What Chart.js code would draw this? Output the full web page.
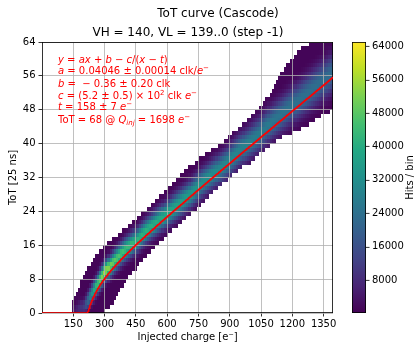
<!DOCTYPE html>
<html>
<head>
<meta charset="utf-8">
<script src="https://cdn.jsdelivr.net/npm/chart.js@4.4.1/dist/chart.umd.min.js"></script>
<style>
  html, body { margin: 0; padding: 0; background: #fff; }
</style>
</head>
<body>
<canvas id="totChart" width="417" height="343"></canvas>
<script>
// hit band per injected charge [e-]: edges, ridge position, ridge height, ridge width (ToT units)
const chargeSamples = [150, 200, 250, 300, 350, 400, 450, 500, 550, 600, 650, 700, 750, 800, 850, 900, 950, 1000, 1050, 1100, 1150, 1200, 1250, 1300, 1350, 1400];
const bandLow   = [0, 0, 0, 0, 3, 7.5, 10.5, 13.5, 16, 18.3, 20.5, 23, 25, 27.3, 29.8, 32, 34, 35.6, 37.7, 39.7, 41.4, 42.5, 43.7, 45.3, 46.8, 48];
const bandHigh  = [2.5, 9, 13, 16, 18, 20, 22.5, 24.5, 27, 29.5, 32, 34.3, 36.3, 38, 39.8, 41.8, 44, 46.3, 48.8, 52.5, 57, 60, 63, 64, 64, 64];
const ridgeTot  = [0.5, 1.5, 5.5, 9.5, 12.5, 15, 17, 19.5, 21.5, 23.5, 25.5, 27.5, 30, 32, 34, 36, 38.5, 40.5, 42.5, 45, 47, 49, 51, 53, 55, 57];
const ridgeHits = [3000, 12000, 40000, 56000, 48000, 44000, 42000, 41000, 40000, 39000, 37000, 35000, 33500, 32000, 31000, 30000, 29000, 28000, 27000, 26000, 25000, 24500, 24000, 23500, 23000, 23000];
const ridgeWidth = [1, 1.3, 1.4, 1.5, 1.6, 1.7, 1.75, 1.8, 1.85, 1.9, 2, 2.05, 2.1, 2.15, 2.2, 2.3, 2.35, 2.4, 2.5, 2.55, 2.6, 2.7, 2.8, 2.85, 2.9, 3];
const tailHits = 900;

const chargeStep = 9.96;   // one VL DAC step in electrons
const nSteps = 140;

// fit result y = a*x + b - c/(x - t)
const fitA = 0.04046, fitB = -0.36, fitC = 520, fitT = 158;

const xTicks = [150, 300, 450, 600, 750, 900, 1050, 1200, 1350];
const yTicks = [0, 8, 16, 24, 32, 40, 48, 56, 64];
const cbTicks = [8000, 16000, 24000, 32000, 40000, 48000, 56000, 64000];
const cbMin = 100, cbMax = 65000;

const viridisStops = ['#440154', '#482475', '#414487', '#355f8d', '#2a788e', '#21918c', '#22a884', '#44bf70', '#7ad151', '#bddf26', '#fde725'];

function hexRgb(h) {
  return [parseInt(h.slice(1, 3), 16), parseInt(h.slice(3, 5), 16), parseInt(h.slice(5, 7), 16)];
}
const viridisRgb = viridisStops.map(hexRgb);

function viridis(v) {
  let t = (v - cbMin) / (cbMax - cbMin);
  t = Math.max(0, Math.min(1, t));
  const p = t * 10, i = Math.min(9, Math.floor(p)), f = p - i;
  const a = viridisRgb[i], b = viridisRgb[i + 1];
  return 'rgb(' + a.map((c, k) => Math.round(c + f * (b[k] - c))).join(',') + ')';
}

function atCharge(arr, q) {
  if (q <= chargeSamples[0]) return arr[0];
  for (let i = 1; i < chargeSamples.length; i++) {
    if (q <= chargeSamples[i]) {
      const f = (q - chargeSamples[i - 1]) / (chargeSamples[i] - chargeSamples[i - 1]);
      return arr[i - 1] + f * (arr[i] - arr[i - 1]);
    }
  }
  return arr[arr.length - 1];
}

// 2D histogram cells: one column per DAC step, one row per ToT count
const cells = [];
for (let k = 1; k <= nSteps; k++) {
  const q = k * chargeStep;
  if (q < chargeSamples[0] - 5) continue;
  const lo = atCharge(bandLow, q), hi = atCharge(bandHigh, q);
  const mu = atCharge(ridgeTot, q), peak = atCharge(ridgeHits, q), w = atCharge(ridgeWidth, q);
  for (let tot = 0; tot < 64; tot++) {
    const c = tot + 0.5;
    if (c < lo || c > hi) continue;
    const d = (c - mu) / w;
    cells.push({ x: q, y: tot, v: Math.max(tailHits, peak * Math.exp(-0.5 * d * d)) });
  }
}

const fitPoints = [];
for (let q = 0; q <= 1396; q += 2) {
  const y = q <= fitT ? 0 : Math.max(0, fitA * q + fitB - fitC / (q - fitT));
  fitPoints.push({ x: q, y: y });
}

const heatmapPlugin = {
  id: 'heatmap',
  beforeDraw(chart) {
    const { ctx, chartArea: area, scales: { x, y } } = chart;
    ctx.save();
    ctx.beginPath();
    ctx.rect(area.left, area.top, area.width, area.height);
    ctx.clip();
    for (const c of chart.data.datasets[0].data) {
      const x0 = Math.round(x.getPixelForValue(c.x - chargeStep / 2));
      const x1 = Math.round(x.getPixelForValue(c.x + chargeStep / 2));
      const y0 = Math.round(y.getPixelForValue(c.y + 1));
      const y1 = Math.round(y.getPixelForValue(c.y));
      ctx.fillStyle = viridis(c.v);
      ctx.fillRect(x0, y0, x1 - x0, y1 - y0);
    }
    ctx.restore();
  },
  beforeDatasetsDraw(chart) {
    const { ctx, chartArea: area } = chart;
    ctx.save();
    ctx.strokeStyle = '#000';
    ctx.lineWidth = 0.8;
    ctx.strokeRect(Math.round(area.left) + 0.4, Math.round(area.top) + 0.4,
      Math.round(area.width) - 0.8, Math.round(area.height) - 0.8);
    ctx.restore();
  }
};

function drawRuns(ctx, x, y, runs) {
  for (const [txt, kind] of runs) {
    let font = '10px "DejaVu Sans"', dy = 0;
    if (kind === 'i') font = 'italic 10px "DejaVu Sans"';
    if (kind === 'sup') { font = '7px "DejaVu Sans"'; dy = -4; }
    if (kind === 'subi') { font = 'italic 7px "DejaVu Sans"'; dy = 2; }
    ctx.font = font;
    ctx.fillText(txt, x, y + dy);
    x += ctx.measureText(txt).width;
  }
}

const fitText = [
  [['y', 'i'], [' = ', 'r'], ['ax', 'i'], [' + ', 'r'], ['b', 'i'], [' − ', 'r'], ['c', 'i'], ['/(', 'r'], ['x', 'i'], [' − ', 'r'], ['t', 'i'], [')', 'r']],
  [['a', 'i'], [' = 0.04046 ± 0.00014 clk/', 'r'], ['e', 'i'], ['−', 'sup']],
  [['b', 'i'], [' =  − 0.36 ± 0.20 clk', 'r']],
  [['c', 'i'], [' = (5.2 ± 0.5) × 10', 'r'], ['2', 'sup'], [' clk ', 'r'], ['e', 'i'], ['−', 'sup']],
  [['t', 'i'], [' = 158 ± 7 ', 'r'], ['e', 'i'], ['−', 'sup']],
  [['ToT = 68 @ ', 'r'], ['Q', 'i'], ['inj', 'subi'], [' = 1698 ', 'r'], ['e', 'i'], ['−', 'sup']]
];
const fitTextBaselines = [62.5, 73.5, 86.5, 99, 110, 123];

const annotationsPlugin = {
  id: 'annotations',
  afterDraw(chart) {
    const { ctx, chartArea: area, scales: { cb } } = chart;
    ctx.save();
    ctx.fillStyle = '#000';
    ctx.textAlign = 'center';
    ctx.textBaseline = 'alphabetic';
    ctx.font = '12px "DejaVu Sans"';
    ctx.fillText('ToT curve (Cascode)', 218, 16.5);
    ctx.fillText('VH = 140, VL = 139..0 (step -1)', 188, 36);

    // fit summary
    ctx.textAlign = 'left';
    ctx.fillStyle = '#ff0000';
    fitText.forEach((runs, i) => drawRuns(ctx, 58, fitTextBaselines[i], runs));

    // colour bar
    const barL = 352, barR = 366;
    const top = cb.getPixelForValue(cbMax), bottom = cb.getPixelForValue(cbMin);
    const grad = ctx.createLinearGradient(0, bottom, 0, top);
    viridisStops.forEach((c, i) => grad.addColorStop(i / 10, c));
    ctx.fillStyle = grad;
    ctx.fillRect(barL, top, barR - barL, bottom - top);
    ctx.strokeStyle = '#000';
    ctx.lineWidth = 0.8;
    ctx.strokeRect(barL + 0.4, Math.round(top) + 0.4, barR - barL - 0.8, Math.round(bottom - top) - 0.8);
    ctx.beginPath();
    cb.ticks.forEach(t => {
      const py = Math.round(cb.getPixelForValue(t.value)) + 0.4;
      ctx.moveTo(barR, py);
      ctx.lineTo(barR + 3.5, py);
    });
    ctx.stroke();

    ctx.translate(410, (area.top + area.bottom) / 2);
    ctx.rotate(-Math.PI / 2);
    ctx.textAlign = 'center';
    ctx.textBaseline = 'middle';
    ctx.fillStyle = '#000';
    ctx.font = '10px "DejaVu Sans"';
    ctx.fillText('Hits / bin', 0, 0);
    ctx.restore();
  }
};

const tickFont = { family: 'DejaVu Sans', size: 10 };
const gridStyle = { color: '#b0b0b0', lineWidth: 0.8, tickColor: '#000', tickWidth: 0.8, tickLength: 3.5 };
const plain = v => String(v);

new Chart(document.getElementById('totChart').getContext('2d'), {
  type: 'scatter',
  data: {
    datasets: [
      { label: 'hits', data: cells, pointRadius: 0, pointHoverRadius: 0 },
      { label: 'fit', data: fitPoints, showLine: true, borderColor: '#ff0000', borderWidth: 1.5, pointRadius: 0, tension: 0 }
    ]
  },
  options: {
    responsive: false,
    animation: false,
    events: [],
    layout: { padding: { top: 42, left: 0, right: 0, bottom: 0 } },
    plugins: { legend: { display: false }, tooltip: { enabled: false } },
    scales: {
      x: {
        type: 'linear', min: 0, max: 1395,
        afterBuildTicks: s => { s.ticks = xTicks.map(v => ({ value: v })); },
        afterFit: s => { s.height = 30; },
        ticks: { font: tickFont, color: '#000', padding: 2, maxRotation: 0, callback: plain },
        grid: gridStyle,
        border: { display: false },
        title: { display: true, text: 'Injected charge [e⁻]', font: tickFont, color: '#000', padding: { top: 0, bottom: 0 } }
      },
      y: {
        type: 'linear', min: 0, max: 64,
        afterBuildTicks: s => { s.ticks = yTicks.map(v => ({ value: v })); },
        afterFit: s => { s.width = 42; },
        ticks: { font: tickFont, color: '#000', padding: 3, callback: plain },
        grid: gridStyle,
        border: { display: false },
        title: { display: true, text: 'ToT [25 ns]', font: tickFont, color: '#000', padding: { top: 7, bottom: 0 } }
      },
      cb: {
        type: 'linear', position: 'right', min: cbMin, max: cbMax,
        afterBuildTicks: s => { s.ticks = cbTicks.map(v => ({ value: v })); },
        afterFit: s => { s.width = 84; },
        ticks: { font: tickFont, color: '#000', padding: 0, callback: plain },
        // invisible tick marks push the labels past the colour bar
        grid: { display: true, drawOnChartArea: false, drawTicks: true, tickLength: 39, tickColor: 'rgba(0,0,0,0)' },
        border: { display: false }
      }
    }
  },
  plugins: [heatmapPlugin, annotationsPlugin]
});
</script>
</body>
</html>
